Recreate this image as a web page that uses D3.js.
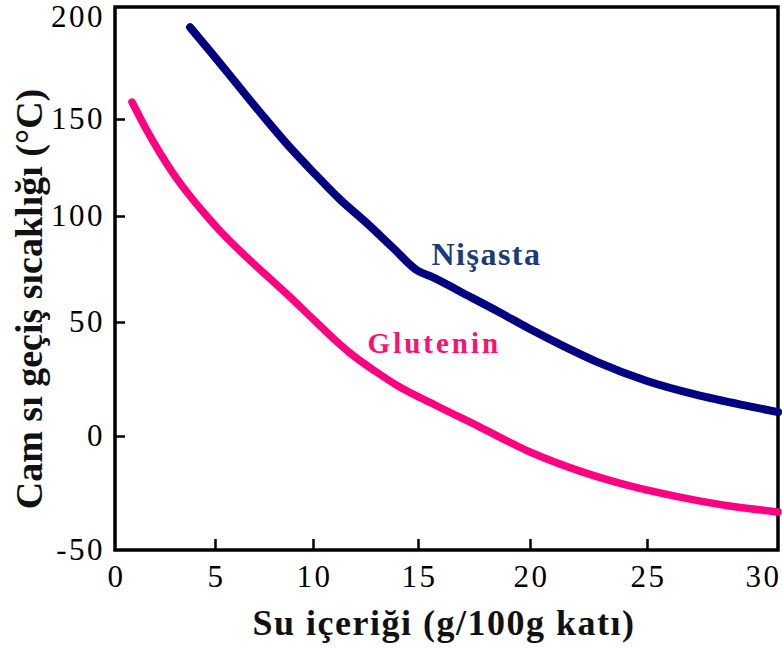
<!DOCTYPE html>
<html>
<head>
<meta charset="utf-8">
<script src="https://cdn.jsdelivr.net/npm/d3@7"></script>
<style>
  body { margin: 0; background: #fff; }
  svg { display: block; }
  svg text { font-family: "Times New Roman", "Liberation Serif", serif; }
</style>
</head>
<body>
<div id="chart"></div>
<script>
// tick values
const xTicks = [0, 5, 10, 15, 20, 25, 30];
const yTicks = [-50, 0, 50, 100, 150, 200];

// Nişasta (starch): water content vs Tg
const nisastaWater = [3.75, 4.75, 6.28, 7.45, 8.67, 10, 11.29, 12.57, 13.81, 15, 15.67, 17.0, 18.53, 20, 21.41, 22.86, 25, 27.17, 29.35, 30.7];
const nisastaTg    = [195, 183.3, 165.2, 151.5, 137.1, 122.7, 108.5, 96.6, 85, 74.1, 71.1, 63.7, 55.2, 46.9, 39.5, 32.5, 24.1, 18, 13.2, 10.5];

// Glutenin
const glutenWater = [0.85, 1.5, 2.25, 3.0, 3.75, 4.5, 5.26, 6.28, 7.55, 8.83, 10, 11.05, 11.76, 12.95, 14.05, 15.76, 17.77, 20, 22.14, 24.27, 26.43, 28.6, 30.7];
const glutenTg    = [158.3, 145.9, 132.5, 120.6, 110.3, 101, 92.9, 83.5, 72.6, 61.8, 51.4, 42.1, 36.4, 28.5, 21.9, 13.6, 3.9, -7, -15.4, -21.9, -26.8, -30.7, -33.3];

const W = 782, H = 648;

const svg = d3.select("#chart")
              .append("svg")
              .attr("width", W)
              .attr("height", H)

// the scan is not evenly spaced, so the scales follow its tick marks
const x = d3.scaleLinear(xTicks, [115, 215, 313, 418, 530, 647, 762]);
const y = d3.scaleLinear(yTicks, [550, 436, 322, 216, 119, 17]);

const plotLeft = x(0), plotRight = 778, plotTop = 7, plotBottom = y(-50);

const serif = '"Times New Roman", "Liberation Serif", serif';

// x axis
svg.append("g")
   .attr("transform", `translate(0, ${plotBottom})`)
   .call(d3.axisBottom(x).tickValues(xTicks).tickSizeInner(-11).tickSizeOuter(0)
           .tickPadding(15).tickFormat(d => String(d)))
   .call(g => g.select(".domain").remove())
   .call(g => g.selectAll(".tick line").filter(d => d == 0 || d == 30).remove())
   .call(g => g.selectAll(".tick line").attr("stroke", "#000").attr("stroke-width", 2.5))
   .call(g => g.selectAll("text").attr("fill", "#000").attr("dx", "1px")
               .style("font-size", "31px").style("letter-spacing", "2.5px")
               .style("font-family", serif));

// y axis
svg.append("g")
   .attr("transform", `translate(${plotLeft}, 0)`)
   .call(d3.axisLeft(y).tickValues(yTicks).tickSizeInner(-10).tickSizeOuter(0)
           .tickPadding(10).tickFormat(d => String(d)))
   .call(g => g.select(".domain").remove())
   .call(g => g.selectAll(".tick line").filter(d => d == -50 || d == 200).remove())
   .call(g => g.selectAll(".tick line").attr("stroke", "#000").attr("stroke-width", 2.5))
   .call(g => g.selectAll("text").attr("fill", "#000")
               .style("font-size", "31px").style("letter-spacing", "2.5px")
               .style("font-family", serif));

// frame
svg.append("rect")
   .attr("x", plotLeft)
   .attr("y", plotTop)
   .attr("width", plotRight - plotLeft)
   .attr("height", plotBottom - plotTop)
   .attr("fill", "none")
   .attr("stroke", "#000")
   .attr("stroke-width", 3.5);

const dMaker = d3.line()
  .x(d => x(d[0]))
  .y(d => y(d[1]))
  .curve(d3.curveMonotoneX);

const series = [
  { name: "Nişasta", xs: nisastaWater, ys: nisastaTg, color: "#000080", width: 8 },
  { name: "Glutenin", xs: glutenWater, ys: glutenTg, color: "#ff0080", width: 7.5 },
];

svg.selectAll("path.curve")
   .data(series)
   .enter()
   .append("path")
   .attr("class", "curve")
   .attr("fill", "none")
   .attr("stroke", d => d.color)
   .attr("stroke-width", d => d.width)
   .attr("stroke-linecap", "round")
   .attr("stroke-linejoin", "round")
   .attr("d", d => dMaker(d.xs.map((v, i) => [v, d.ys[i]])));

// curve labels
svg.append("text")
   .attr("x", x(15.6))
   .attr("y", y(77))
   .attr("font-size", 32)
   .attr("font-weight", "bold")
   .attr("letter-spacing", 1.5)
   .attr("fill", "#1a3c78")
   .text("Nişasta");

svg.append("text")
   .attr("x", x(12.6))
   .attr("y", y(36.4))
   .attr("font-size", 29)
   .attr("font-weight", "bold")
   .attr("letter-spacing", 3)
   .attr("fill", "#ff1070")
   .text("Glutenin");

// axis titles
svg.append("text")
   .attr("x", 444)
   .attr("y", 635)
   .attr("text-anchor", "middle")
   .attr("font-size", 36)
   .attr("font-weight", "bold")
   .attr("letter-spacing", 1.5)
   .attr("fill", "#111")
   .text("Su  içeriği (g/100g katı)");

svg.append("text")
   .attr("transform", "translate(42, 299) rotate(-90)")
   .attr("text-anchor", "middle")
   .attr("font-size", 38)
   .attr("font-weight", "bold")
   .attr("fill", "#111")
   .text("Cam sı geçiş sıcaklığı (°C)");
</script>
</body>
</html>
